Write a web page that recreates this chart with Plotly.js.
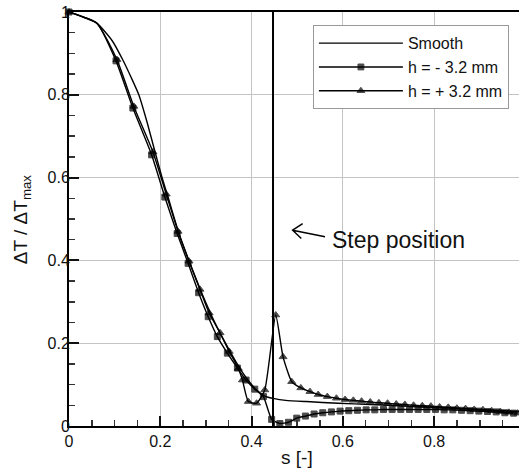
<!DOCTYPE html>
<html>
<head>
<meta charset="utf-8">
<script src="https://cdn.plot.ly/plotly-3.0.1.min.js"></script>
<style>
html,body{margin:0;padding:0;background:#fff;}
#chart{width:519px;height:468px;}
</style>
</head>
<body>
<div id="chart"></div>
<script>
// ---- data ----
var seriesNames = ['Smooth', 'h = - 3.2 mm', 'h = + 3.2 mm'];

var smoothS = [0, 0.061, 0.095, 0.118, 0.137, 0.153, 0.172, 0.189, 0.204, 0.217, 0.241, 0.265, 0.289, 0.311, 0.333, 0.354, 0.374, 0.392, 0.41, 0.428, 0.45, 0.475, 0.52, 0.59, 0.66, 0.74, 0.82, 0.9, 0.986];
var smoothY = [1, 0.973, 0.93, 0.884, 0.84, 0.8, 0.73, 0.66, 0.6, 0.553, 0.465, 0.393, 0.326, 0.27, 0.22, 0.178, 0.14, 0.111, 0.088, 0.073, 0.066, 0.062, 0.059, 0.055, 0.052, 0.048, 0.044, 0.04, 0.035];

var minusS = [0, 0.061, 0.103, 0.140, 0.181, 0.210, 0.237, 0.261, 0.284, 0.305, 0.325, 0.347, 0.369, 0.388, 0.407, 0.426, 0.444, 0.462, 0.481, 0.499, 0.518, 0.537, 0.556, 0.575, 0.594, 0.613, 0.632, 0.651, 0.670, 0.689, 0.708, 0.727, 0.746, 0.765, 0.784, 0.803, 0.822, 0.841, 0.860, 0.879, 0.898, 0.917, 0.936, 0.955, 0.974];
var minusY = [1, 0.973, 0.882, 0.768, 0.655, 0.553, 0.465, 0.393, 0.322, 0.264, 0.216, 0.176, 0.14, 0.111, 0.089, 0.071, 0.016, 0.006, 0.009, 0.019, 0.024, 0.029, 0.032, 0.034, 0.036, 0.037, 0.038, 0.039, 0.039, 0.040, 0.040, 0.040, 0.040, 0.040, 0.040, 0.040, 0.039, 0.039, 0.038, 0.037, 0.036, 0.035, 0.034, 0.032, 0.031];

var plusS = [0, 0.061, 0.105, 0.142, 0.184, 0.213, 0.239, 0.263, 0.287, 0.307, 0.331, 0.351, 0.371, 0.380, 0.393, 0.411, 0.429, 0.453, 0.469, 0.488, 0.508, 0.528, 0.546, 0.566, 0.586, 0.605, 0.623, 0.641, 0.660, 0.679, 0.698, 0.717, 0.736, 0.755, 0.774, 0.793, 0.812, 0.831, 0.850, 0.869, 0.888, 0.907, 0.926, 0.945, 0.964, 0.983];
var plusY = [1, 0.973, 0.885, 0.772, 0.662, 0.560, 0.470, 0.398, 0.330, 0.273, 0.225, 0.180, 0.139, 0.111, 0.059, 0.055, 0.087, 0.268, 0.167, 0.107, 0.092, 0.083, 0.076, 0.071, 0.067, 0.064, 0.062, 0.060, 0.058, 0.056, 0.055, 0.053, 0.052, 0.050, 0.049, 0.048, 0.046, 0.045, 0.043, 0.042, 0.040, 0.039, 0.037, 0.035, 0.033, 0.031];

var stepPosition = 0.447;
var xTickVals = [0, 0.2, 0.4, 0.6, 0.8];
var xTickText = ['0', '0.2', '0.4', '0.6', '0.8'];
var yTickVals = [0, 0.2, 0.4, 0.6, 0.8, 1];
var yTickText = ['0', '0.2', '0.4', '0.6', '0.8', '1'];

// ---- figure ----
function sizes(arr, s) { return arr.map(function (v, i) { return i === 1 ? 0 : s; }); }
var lineStyle = {color: '#000', width: 1.4, shape: 'spline', smoothing: 0.5};

var traces = [
  {x: smoothS, y: smoothY, name: seriesNames[0], mode: 'lines', line: lineStyle, cliponaxis: false},
  {x: minusS, y: minusY, name: seriesNames[1], mode: 'lines+markers', line: lineStyle,
   marker: {symbol: 'square', size: sizes(minusS, 6), color: '#000', line: {color: '#000', width: 1}}, cliponaxis: false},
  {x: plusS, y: plusY, name: seriesNames[2], mode: 'lines+markers', line: lineStyle,
   marker: {symbol: 'triangle-up', size: sizes(plusS, 7), color: '#000', line: {color: '#000', width: 1}}, cliponaxis: false}
];

var fam = 'Liberation Sans, Arial, sans-serif';

var layout = {
  width: 519, height: 468,
  margin: {l: 69, r: 0, t: 12, b: 42, pad: 0},
  paper_bgcolor: '#fff', plot_bgcolor: '#fff',
  font: {family: fam, size: 16, color: '#111'},
  showlegend: true,
  legend: {x: 0.542, y: 0.968, xanchor: 'left', yanchor: 'top', bgcolor: '#fff', bordercolor: '#999', borderwidth: 1,
           font: {size: 16, family: fam, color: '#111'}, itemwidth: 84, tracegroupgap: 0},
  xaxis: {range: [0, 0.986], tickvals: xTickVals, ticktext: xTickText, ticks: 'inside', ticklen: 10, tickwidth: 2, tickcolor: '#111',
          showline: true, linewidth: 2, linecolor: '#000', mirror: true, showgrid: true, gridcolor: '#c4c4c4', gridwidth: 1,
          zeroline: false, tickfont: {size: 16},
          minor: {dtick: 0.05, tick0: 0, ticks: 'inside', ticklen: 6, tickwidth: 1.5, tickcolor: '#333', showgrid: false}},
  yaxis: {range: [0, 1], tickvals: yTickVals, ticktext: yTickText, ticks: 'inside', ticklen: 10, tickwidth: 2, tickcolor: '#111',
          showline: true, linewidth: 2, linecolor: '#000', showgrid: true, gridcolor: '#c4c4c4', gridwidth: 1,
          zeroline: false, tickfont: {size: 16}, ticklabelstandoff: -6,
          minor: {dtick: 0.05, tick0: 0, ticks: 'inside', ticklen: 6, tickwidth: 1.5, tickcolor: '#333', showgrid: false}},
  shapes: [
    {type: 'line', xref: 'x', yref: 'paper', x0: stepPosition, x1: stepPosition, y0: 0, y1: 1, line: {color: '#000', width: 2}, layer: 'above'},
    {type: 'path', xref: 'x', yref: 'y', path: 'M 0.561 0.457 L 0.490 0.473 M 0.512 0.489 L 0.490 0.473 L 0.509 0.453', line: {color: '#000', width: 1.5}}
  ],
  annotations: [
    {text: 'Step position', xref: 'x', yref: 'y', x: 0.572, y: 0.449, xanchor: 'left', yanchor: 'middle', showarrow: false,
     font: {size: 23, family: fam, color: '#111'}},
    {text: 's [-]', xref: 'paper', yref: 'paper', x: 0.506, y: -0.075, xanchor: 'center', yanchor: 'middle', showarrow: false,
     font: {size: 19, family: fam, color: '#111'}},
    {text: 'ΔT / ΔT<sub>max</sub>', xref: 'paper', yref: 'paper', x: -0.104, y: 0.5, xanchor: 'center', yanchor: 'middle', textangle: -90, showarrow: false,
     font: {size: 19, family: fam, color: '#111'}}
  ]
};

Plotly.newPlot('chart', traces, layout, {displayModeBar: false, staticPlot: true});
</script>
</body>
</html>
